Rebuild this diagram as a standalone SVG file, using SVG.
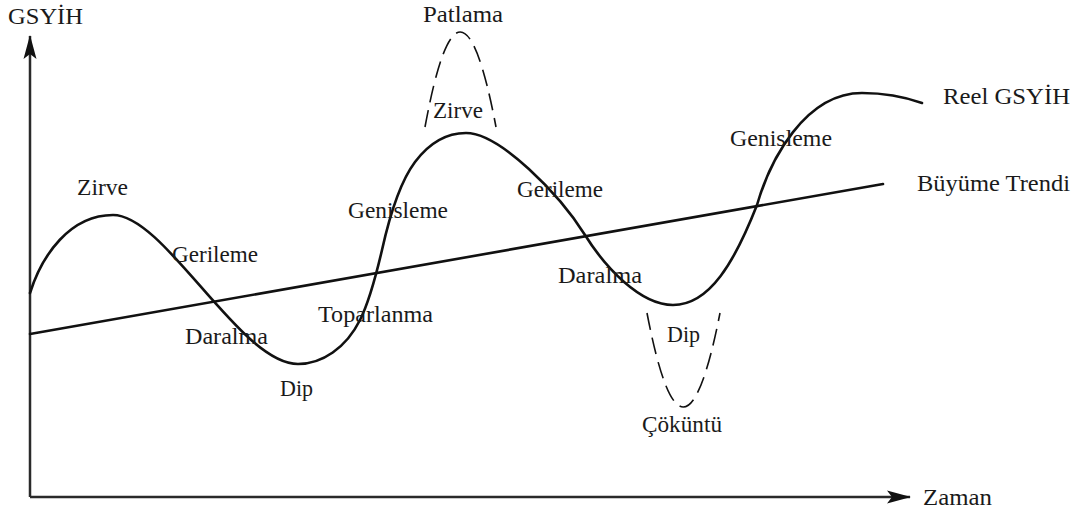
<svg xmlns="http://www.w3.org/2000/svg" width="1083" height="513" viewBox="0 0 1083 513">
<style>
.lbl{font-family:'Liberation Serif','Times New Roman',serif;font-size:23px;fill:#1a1a1a}
.axis{stroke:#2a2a2a;stroke-width:2.5;fill:none}
.line{stroke:#111;stroke-width:2.6;fill:none;stroke-linecap:round;stroke-linejoin:round}
.dash{stroke:#111;stroke-width:1.6;fill:none;stroke-dasharray:17 8}
</style>
<defs>
<marker id="arr" viewBox="-24 -8 26 16" refX="0" refY="0" markerWidth="26" markerHeight="16" markerUnits="userSpaceOnUse" orient="auto">
<path d="M1,0 L-23,-6.5 L-18,0 L-23,6.5 Z" fill="#111"/>
</marker>
</defs>
<g id="axes">
<path class="axis" d="M30,497 L30,36" marker-end="url(#arr)"/>
<path class="axis" d="M30,497 L910,497" marker-end="url(#arr)"/>
</g>
<g id="trend">
<path class="line" d="M30,334 L883,184"/>
</g>
<g id="real-gdp">
<path class="line" d="M30,293 C42,255 70,215 113,215 C165,215 240,364 298,364 C322,364 346,348 360,320 C368,304 375,280 382,250 C386,232 397,186 415,162 C430,142 446,133 466,133 C500,133 560,195 585,235 C605,267 640,305 673,305 C710,305 735,261 757,205 C770,160 805,93 862,93 C885,93 905,97 922,103"/>
</g>
<g id="extremes">
<path class="dash" d="M425,127 Q460,-63 496,127"/>
<path class="dash" d="M647,313 Q683,501 720,313"/>
</g>
<g id="labels" class="lbl">
<text x="8" y="24" textLength="75" lengthAdjust="spacingAndGlyphs">GSYİH</text>
<text x="423" y="22" textLength="80" lengthAdjust="spacingAndGlyphs">Patlama</text>
<text x="433" y="118" textLength="50" lengthAdjust="spacingAndGlyphs">Zirve</text>
<text x="943" y="104" textLength="127" lengthAdjust="spacingAndGlyphs">Reel GSYİH</text>
<text x="730" y="146" textLength="102" lengthAdjust="spacingAndGlyphs">Genisleme</text>
<text x="917" y="191" textLength="153" lengthAdjust="spacingAndGlyphs">Büyüme Trendi</text>
<text x="77" y="195" textLength="51" lengthAdjust="spacingAndGlyphs">Zirve</text>
<text x="172" y="262" textLength="86" lengthAdjust="spacingAndGlyphs">Gerileme</text>
<text x="185" y="344" textLength="83" lengthAdjust="spacingAndGlyphs">Daralma</text>
<text x="280" y="396" textLength="33" lengthAdjust="spacingAndGlyphs">Dip</text>
<text x="318" y="322" textLength="115" lengthAdjust="spacingAndGlyphs">Toparlanma</text>
<text x="348" y="218" textLength="100" lengthAdjust="spacingAndGlyphs">Genisleme</text>
<text x="517" y="197" textLength="86" lengthAdjust="spacingAndGlyphs">Gerileme</text>
<text x="558" y="283" textLength="84" lengthAdjust="spacingAndGlyphs">Daralma</text>
<text x="667" y="342" textLength="33" lengthAdjust="spacingAndGlyphs">Dip</text>
<text x="642" y="432" textLength="80" lengthAdjust="spacingAndGlyphs">Çöküntü</text>
<text x="923" y="505" textLength="69" lengthAdjust="spacingAndGlyphs">Zaman</text>
</g>
</svg>
